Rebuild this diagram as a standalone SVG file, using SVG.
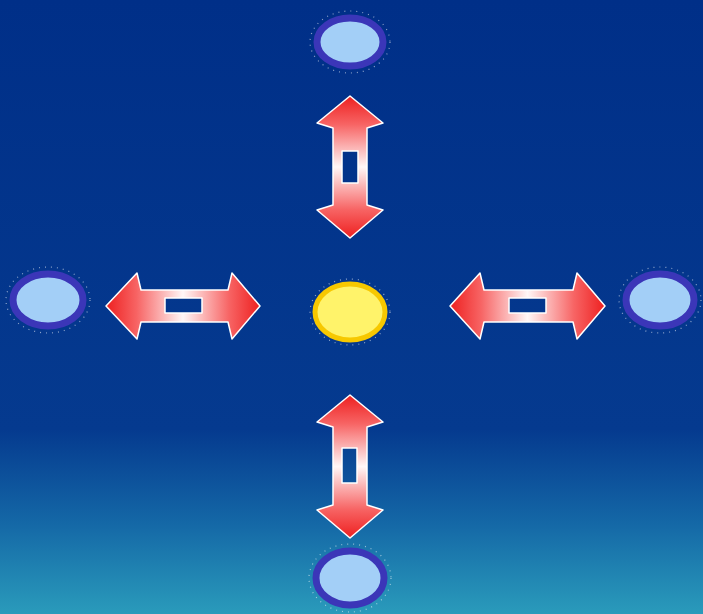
<svg xmlns="http://www.w3.org/2000/svg" width="703" height="614" viewBox="0 0 703 614">
  <defs>
    <linearGradient id="bg" x1="0" y1="0" x2="0" y2="1">
      <stop offset="0" stop-color="#002f88"/>
      <stop offset="0.7" stop-color="#053a8f"/>
      <stop offset="0.85" stop-color="#1467a6"/>
      <stop offset="1" stop-color="#2a9bbb"/>
    </linearGradient>
    <linearGradient id="gh" x1="0" y1="0" x2="1" y2="0">
      <stop offset="0" stop-color="#ee2020"/>
      <stop offset="0.2" stop-color="#f76464"/>
      <stop offset="0.5" stop-color="#fff7f7"/>
      <stop offset="0.8" stop-color="#f76464"/>
      <stop offset="1" stop-color="#ee2020"/>
    </linearGradient>
    <linearGradient id="gv" x1="0" y1="0" x2="0" y2="1">
      <stop offset="0" stop-color="#ee2020"/>
      <stop offset="0.2" stop-color="#f76464"/>
      <stop offset="0.5" stop-color="#fff7f7"/>
      <stop offset="0.8" stop-color="#f76464"/>
      <stop offset="1" stop-color="#ee2020"/>
    </linearGradient>
  </defs>
  <style>
    .outer { fill: #a3cff7; stroke: #3b36b8; stroke-width: 7; }
    .center { fill: #fff36a; stroke: #f7c800; stroke-width: 5; }
    .halo { fill: none; stroke: #ffffff; stroke-width: 1.2; stroke-dasharray: 1 5; opacity: 0.55; }
    .ah { fill: url(#gh); fill-rule: evenodd; stroke: #ffffff; stroke-width: 1.5; stroke-linejoin: round; }
    .av { fill: url(#gv); fill-rule: evenodd; stroke: #ffffff; stroke-width: 1.5; stroke-linejoin: round; }
  </style>
  <rect width="703" height="614" fill="url(#bg)"/>

  <g id="connectors">
    <path id="arrow-top" class="av" d="M350,96 L383,123 L367,128 L367,205 L383,210 L350,238 L317,210 L333,205 L333,128 L317,123 Z M342,151 L358,151 L358,183 L342,183 Z"/>
    <path id="arrow-bottom" class="av" d="M350,395 L383,422 L367,427 L367,505 L383,510 L350,538 L317,510 L333,505 L333,427 L317,422 Z M342,448 L357,448 L357,483 L342,483 Z"/>
    <path id="arrow-left" class="ah" d="M106,306 L137,273 L141,290 L228,290 L232,273 L260,306 L232,339 L228,322 L141,322 L137,339 Z M165,298 L202,298 L202,313 L165,313 Z"/>
    <path id="arrow-right" class="ah" d="M450,306 L480,273 L484,290 L573,290 L577,273 L605,306 L577,339 L573,322 L484,322 L480,339 Z M509,298 L546,298 L546,313 L509,313 Z"/>
  </g>

  <g id="node-top">
    <ellipse class="halo" cx="350" cy="42" rx="40" ry="31"/>
    <ellipse class="outer" cx="350" cy="42" rx="33" ry="24"/>
  </g>
  <g id="node-left">
    <ellipse class="halo" cx="48" cy="300" rx="42" ry="33"/>
    <ellipse class="outer" cx="48" cy="300" rx="35" ry="26"/>
  </g>
  <g id="node-center">
    <ellipse class="halo" cx="350" cy="312" rx="40" ry="33"/>
    <ellipse class="center" cx="350" cy="312" rx="35" ry="28"/>
  </g>
  <g id="node-right">
    <ellipse class="halo" cx="660" cy="300" rx="41" ry="33"/>
    <ellipse class="outer" cx="660" cy="300" rx="34" ry="26"/>
  </g>
  <g id="node-bottom">
    <ellipse class="halo" cx="350" cy="578" rx="41" ry="34"/>
    <ellipse class="outer" cx="350" cy="578" rx="34" ry="27"/>
  </g>
</svg>
